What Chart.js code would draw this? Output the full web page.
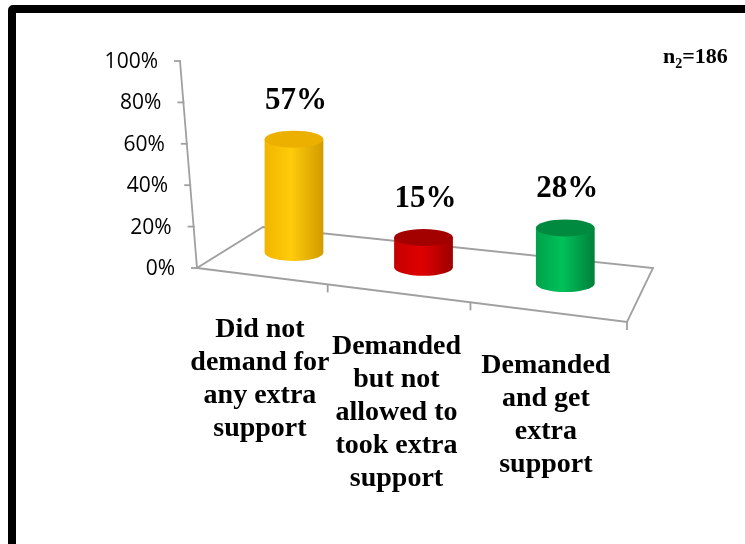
<!DOCTYPE html>
<html>
<head>
<meta charset="utf-8">
<title>Extra support</title>
<script src="https://cdn.jsdelivr.net/npm/chart.js@4.4.1/dist/chart.umd.min.js"></script>
<style>
  html, body { margin: 0; padding: 0; background: #fff; overflow: hidden; }
  #wrap { position: relative; width: 745px; height: 544px; }
  #frame {
    position: absolute; left: 8px; top: 5px; width: 800px; height: 600px;
    border: 8px solid #000; border-radius: 5px; pointer-events: none;
  }
</style>
</head>
<body>
<div id="wrap">
  <canvas id="chart"></canvas>
  <div id="frame"></div>
</div>
<script>
// Chart data
const categories = [
    ["Did not", "demand for", "any extra", "support"],
    ["Demanded", "but not", "allowed to", "took extra", "support"],
    ["Demanded", "and get", "extra", "support"]
];
const percentValues = [0.57, 0.15, 0.28];
const valueLabels = ["57%", "15%", "28%"];
const yTickValues = [0, 0.2, 0.4, 0.6, 0.8, 1];
const yTickLabels = ["0%", "20%", "40%", "60%", "80%", "100%"];

// Cylinder colours (edge, mid, dark side, top face)
const cylinderColors = [
    { edge: '#f2b500', mid: '#ffcb0a', dark: '#d29b00', top: '#ebb000' },
    { edge: '#c40000', mid: '#e00000', dark: '#9c0000', top: '#a30000' },
    { edge: '#00a24a', mid: '#00c15a', dark: '#00803a', top: '#008a40' }
];

const lineColor = '#a0a0a0';
const PERSP = 1.145;     // perspective squeeze along the floor
const BAR_DEPTH = 0.55;  // where the cylinders sit between front and back edge

function persp(u) {
    return u / (u + PERSP * (1 - u));
}

// Floor corners worked out from the chart area
function floorCorners(area) {
    const L = area.left, R = area.right, B = area.bottom;
    return {
        fl: [L, B], fr: [R, B + 54],
        bl: [L + 66, B - 41], br: [R + 26, B]
    };
}

function floorPoint(c, u, f) {
    const fx = c.fl[0] + (c.fr[0] - c.fl[0]) * u;
    const fy = c.fl[1] + (c.fr[1] - c.fl[1]) * u;
    const bx = c.bl[0] + (c.br[0] - c.bl[0]) * u;
    const by = c.bl[1] + (c.br[1] - c.bl[1]) * u;
    return [fx + (bx - fx) * f, fy + (by - fy) * f];
}

function drawCylinder(ctx, cx, baseY, topY, rx, ry, col) {
    const g = ctx.createLinearGradient(cx - rx, 0, cx + rx, 0);
    g.addColorStop(0, col.edge);
    g.addColorStop(0.45, col.mid);
    g.addColorStop(1, col.dark);
    ctx.beginPath();
    ctx.moveTo(cx - rx, topY);
    ctx.lineTo(cx - rx, baseY);
    ctx.ellipse(cx, baseY, rx, ry, 0, Math.PI, 0, true);
    ctx.lineTo(cx + rx, topY);
    ctx.closePath();
    ctx.fillStyle = g;
    ctx.fill();

    ctx.beginPath();
    ctx.ellipse(cx, topY, rx, ry, 0, 0, Math.PI * 2);
    ctx.fillStyle = col.top;
    ctx.fill();
}

// Plugin that draws the 3D floor, axis and cylinders
const cylinderPlugin = {
    id: 'cylinders',
    beforeDatasetsDraw(chart) {
        const ctx = chart.ctx;
        const area = chart.chartArea;
        const yScale = chart.scales.y;
        const c = floorCorners(area);
        const y0 = yScale.getPixelForValue(0);
        const y1 = yScale.getPixelForValue(1);
        const axisX = y => area.left - 17 * (y0 - y) / (y0 - y1);

        ctx.save();
        ctx.strokeStyle = lineColor;
        ctx.lineWidth = 1.8;

        // floor outline
        ctx.beginPath();
        ctx.moveTo(c.fl[0], c.fl[1]);
        ctx.lineTo(c.fr[0], c.fr[1]);
        ctx.lineTo(c.br[0], c.br[1]);
        ctx.lineTo(c.bl[0], c.bl[1]);
        ctx.closePath();
        ctx.stroke();

        // category tick marks
        for (let i = 1; i <= categories.length; i++) {
            const p = floorPoint(c, persp(i / categories.length), 0);
            ctx.beginPath();
            ctx.moveTo(p[0], p[1]);
            ctx.lineTo(p[0], p[1] + 8);
            ctx.stroke();
        }

        // vertical axis
        ctx.beginPath();
        ctx.moveTo(axisX(y1), y1);
        ctx.lineTo(axisX(y0), y0);
        ctx.stroke();

        ctx.fillStyle = '#000';
        ctx.font = '21px "Open Sans"';
        ctx.textAlign = 'right';
        ctx.textBaseline = 'middle';
        yTickValues.forEach((v, i) => {
            const y = yScale.getPixelForValue(v);
            const x = axisX(y);
            ctx.beginPath();
            ctx.moveTo(x - 6, y);
            ctx.lineTo(x + 1, y);
            ctx.stroke();
            ctx.fillText(yTickLabels[i], x - 22, y + 1);
        });

        // category labels under the front edge
        ctx.font = 'bold 28px "Liberation Serif"';
        ctx.textAlign = 'center';
        ctx.textBaseline = 'alphabetic';
        const xScale = chart.scales.x;
        categories.forEach((lines, i) => {
            const u = (xScale.getPixelForValue(i) - area.left) / (area.right - area.left);
            const p = floorPoint(c, persp(u), 0);
            lines.forEach((t, j) => ctx.fillText(t, p[0] - 1, p[1] + 61 + j * 33));
        });
        ctx.restore();
    },
    afterDatasetsDraw(chart) {
        const ctx = chart.ctx;
        const area = chart.chartArea;
        const c = floorCorners(area);
        const meta = chart.getDatasetMeta(0);
        ctx.save();
        meta.data.forEach((bar, i) => {
            const u = (bar.x - area.left) / (area.right - area.left);
            const p = floorPoint(c, persp(u), BAR_DEPTH);
            const h = (bar.base - bar.y) * 0.96;
            const rx = bar.width / 2;
            const ry = 8.5;
            const topY = p[1] - h;
            drawCylinder(ctx, p[0], p[1], topY, rx, ry, cylinderColors[i]);

            ctx.fillStyle = '#000';
            ctx.font = 'bold 31px "Liberation Serif"';
            ctx.textAlign = 'center';
            ctx.textBaseline = 'alphabetic';
            ctx.fillText(valueLabels[i], p[0] + 2, topY - ry - 22);
        });

        // sample size note
        ctx.fillStyle = '#000';
        ctx.textAlign = 'left';
        ctx.font = 'bold 22px "Liberation Serif"';
        let x = 663;
        ctx.fillText('n', x, 63);
        x += ctx.measureText('n').width;
        ctx.font = 'bold 14px "Liberation Serif"';
        ctx.fillText('2', x, 68);
        x += ctx.measureText('2').width;
        ctx.font = 'bold 22px "Liberation Serif"';
        ctx.fillText('=186', x, 63);
        ctx.restore();
    }
};

const ctx = document.getElementById('chart').getContext('2d');
new Chart(ctx, {
    type: 'bar',
    data: {
        labels: categories,
        datasets: [{
            data: percentValues,
            backgroundColor: 'rgba(0,0,0,0)',
            borderWidth: 0,
            barPercentage: 0.41,
            categoryPercentage: 1
        }]
    },
    options: {
        responsive: true,
        maintainAspectRatio: false,
        animation: false,
        layout: { padding: { left: 197, right: 118, top: 61, bottom: 276 } },
        plugins: {
            legend: { display: false },
            tooltip: { enabled: false }
        },
        scales: {
            x: { display: false },
            y: { display: false, min: 0, max: 1 }
        }
    },
    plugins: [cylinderPlugin]
});
</script>
</body>
</html>
